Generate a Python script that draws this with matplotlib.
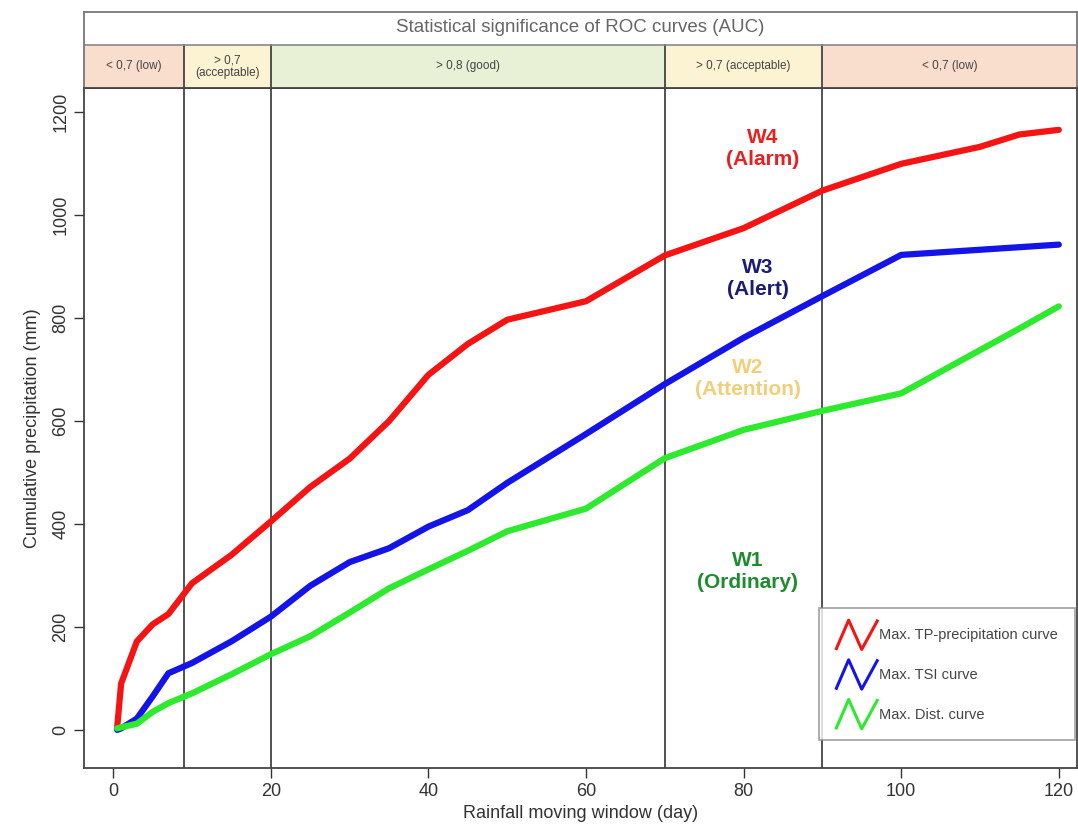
import numpy as np
import matplotlib.pyplot as plt
from matplotlib.lines import Line2D
from matplotlib.legend_handler import HandlerLine2D
from matplotlib.patches import Rectangle

plt.rcParams['font.family'] = ['Liberation Sans', 'DejaVu Sans']

# --- data ---
window_days = [0.5, 1, 3, 5, 7, 10, 15, 20, 25, 30, 35, 40, 45, 50, 60, 70, 80, 90, 100, 110, 115, 120]
tp_precip = [5, 90, 172, 205, 225, 285, 340, 405, 472, 527, 600, 690, 750, 797, 833, 922, 975, 1048, 1100, 1133, 1157, 1166]
tsi_curve = [0, 3, 22, 65, 110, 130, 172, 220, 280, 326, 353, 395, 427, 480, 575, 672, 762, 843, 923, 933, 938, 943]
dist_curve = [3, 5, 12, 35, 52, 71, 108, 147, 182, 228, 275, 312, 348, 386, 430, 528, 583, 620, 654, 738, 780, 823]

series_names = ['Max. TP-precipitation curve', 'Max. TSI curve', 'Max. Dist. curve']
series_colors = ['#F41414', '#1414E8', '#2EEA2E']

# AUC bands: boundaries (day), labels, colours
band_edges = [-3.7, 9, 20, 70, 90, 122.3]
band_labels = ['< 0,7 (low)', '> 0,7\n(acceptable)', '> 0,8 (good)', '> 0,7 (acceptable)', '< 0,7 (low)']
band_colors = ['#F9DECD', '#FCF3D2', '#E8F1D6', '#FCF3D2', '#F9DECD']
split_days = [9, 20, 70, 90]

# warning levels
level_text = ['W4\n(Alarm)', 'W3\n(Alert)', 'W2\n(Attention)', 'W1\n(Ordinary)']
level_x = [82.4, 81.8, 80.5, 80.5]
level_y = [1130, 878, 682, 308]
level_colors = ['#E82020', '#1A1A7A', '#F2CE78', '#1E8C2E']


class ZigzagHandler(HandlerLine2D):
    def create_artists(self, legend, orig_handle, xdescent, ydescent,
                       width, height, fontsize, trans):
        xs = np.array([0.0, 0.3, 0.62, 1.0]) * width - xdescent
        ys = np.array([-0.3, 1.3, -0.35, 1.25]) * height - ydescent
        ln = Line2D(xs, ys, color=orig_handle.get_color(), lw=2.2)
        ln.set_transform(trans)
        return [ln]


fig = plt.figure(figsize=(10.78, 8.24), dpi=100)
ax = fig.add_axes([0.078, 0.068, 0.921, 0.825])
hx = fig.add_axes([0.078, 0.893, 0.921, 0.093])

xlim = (band_edges[0], band_edges[-1])
ax.set_xlim(*xlim)
ax.set_ylim(-74, 1247)

handles = []
for vals, name, col in zip([tp_precip, tsi_curve, dist_curve], series_names, series_colors):
    h, = ax.plot(window_days, vals, color=col, lw=4.5, label=name,
                 solid_capstyle='round', solid_joinstyle='round', zorder=3)
    handles.append(h)

for d in split_days:
    ax.axvline(d, color='#444444', lw=1.3, zorder=2)
    hx.plot([d, d], [0, 43], color='#444444', lw=1.3)

for t, x, y, c in zip(level_text, level_x, level_y, level_colors):
    ax.text(x, y, t, color=c, fontsize=15, fontweight='bold', ha='center',
            va='center', linespacing=1.2)

ax.set_xticks([0, 20, 40, 60, 80, 100, 120])
ax.set_yticks([0, 200, 400, 600, 800, 1000, 1200])
ax.tick_params(axis='both', direction='out', length=7, width=1, colors='#333333',
               labelsize=13, labelcolor='#333333')
for lbl in ax.get_yticklabels():
    lbl.set_rotation(90)
    lbl.set_va('center')
ax.set_xlabel('Rainfall moving window (day)', fontsize=13, color='#333333', labelpad=4)
ax.set_ylabel('Cumulative precipitation (mm)', fontsize=13, color='#333333', labelpad=8)
for sp in ax.spines.values():
    sp.set_color('#444444')
    sp.set_linewidth(1.3)

leg = ax.legend(handles=handles, loc='lower right', bbox_to_anchor=(0.998, 0.041),
                handler_map={Line2D: ZigzagHandler()}, fontsize=10.5,
                frameon=True, fancybox=False, edgecolor='#888888',
                handlelength=2.8, handleheight=1.5, labelspacing=1.5,
                handletextpad=0.1, borderpad=1.2, borderaxespad=0.0)
for t in leg.get_texts():
    t.set_color('#444444')
leg.get_frame().set_linewidth(1.2)

# header: title row above the AUC band row
hx.set_xlim(*xlim)
hx.set_ylim(0, 76)
hx.set_xticks([])
hx.set_yticks([])
for i, (lab, col) in enumerate(zip(band_labels, band_colors)):
    x0, x1 = band_edges[i], band_edges[i + 1]
    hx.add_patch(Rectangle((x0, 0), x1 - x0, 43, facecolor=col, edgecolor='none'))
    hx.text((x0 + x1) / 2, 21.5, lab, ha='center', va='center', fontsize=8.5,
            color='#444444', linespacing=1.1)
hx.plot(xlim, [43, 43], color='#888888', lw=1.2)
hx.text(np.mean(xlim), 60, 'Statistical significance of ROC curves (AUC)',
        ha='center', va='center', fontsize=13.5, color='#666666')
for sp in hx.spines.values():
    sp.set_color('#777777')
    sp.set_linewidth(1.3)
hx.spines['bottom'].set_color('#444444')

fig.savefig('out.png', dpi=100)
